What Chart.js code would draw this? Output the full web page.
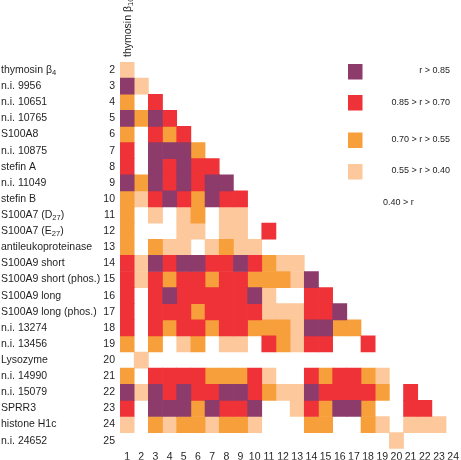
<!DOCTYPE html>
<html>
<head>
<meta charset="utf-8">
<script src="https://cdn.jsdelivr.net/npm/chart.js@4.4.1/dist/chart.umd.min.js"></script>
<style>
  html, body { margin: 0; padding: 0; background: #fff; }
  #wrap { width: 461px; height: 460px; }
</style>
</head>
<body>
<div id="wrap"><canvas id="corrChart"></canvas></div>
<script>
// --- data ---
const rowNumbers = ['2', '3', '4', '5', '6', '7', '8', '9', '10', '11', '12', '13',
  '14', '15', '16', '17', '18', '19', '20', '21', '22', '23', '24', '25'];
const colNumbers = [1, 2, 3, 4, 5, 6, 7, 8, 9, 10, 11, 12, 13, 14, 15, 16, 17, 18, 19, 20, 21, 22, 23, 24];

// {..} marks a subscript
const rowNames = ['thymosin β{4}', 'n.i. 9956', 'n.i. 10651', 'n.i. 10765', 'S100A8',
  'n.i. 10875', 'stefin A', 'n.i. 11049', 'stefin B', 'S100A7 (D{27})', 'S100A7 (E{27})',
  'antileukoproteinase', 'S100A9 short', 'S100A9 short (phos.)', 'S100A9 long',
  'S100A9 long (phos.)', 'n.i. 13274', 'n.i. 13456', 'Lysozyme', 'n.i. 14990',
  'n.i. 15079', 'SPRR3', 'histone H1c', 'n.i. 24652'];
const colName = 'thymosin β{10}';

// correlation class per cell: 4 = r > 0.85, 3, 2, 1, 0 = r < 0.40
const cellLevels = [
  [1],
  [4, 1],
  [2, 0, 3],
  [4, 2, 4, 3],
  [2, 0, 3, 2, 3],
  [3, 0, 4, 4, 4, 2],
  [3, 0, 4, 3, 4, 3, 3],
  [4, 2, 4, 3, 4, 3, 4, 4],
  [2, 1, 3, 4, 3, 2, 4, 3, 3],
  [2, 0, 1, 0, 1, 2, 0, 1, 1, 0],
  [2, 0, 0, 0, 1, 1, 0, 1, 1, 0, 3],
  [2, 0, 2, 1, 1, 0, 1, 2, 1, 1, 0, 0],
  [3, 1, 4, 3, 4, 4, 3, 3, 4, 3, 2, 1, 1],
  [3, 1, 3, 2, 3, 3, 2, 3, 3, 2, 2, 2, 1, 4],
  [3, 0, 3, 4, 3, 3, 3, 3, 3, 4, 1, 0, 0, 3, 3],
  [3, 0, 3, 3, 3, 2, 3, 3, 3, 3, 1, 1, 1, 3, 3, 4],
  [3, 0, 3, 2, 3, 3, 2, 3, 3, 2, 2, 2, 1, 4, 4, 2, 2],
  [2, 0, 2, 0, 1, 2, 0, 1, 1, 0, 3, 2, 1, 3, 3, 0, 0, 3],
  [0, 1, 0, 0, 0, 0, 0, 0, 0, 0, 0, 0, 0, 0, 0, 0, 0, 0, 0],
  [2, 0, 3, 3, 3, 3, 2, 2, 2, 3, 1, 0, 0, 3, 2, 3, 3, 2, 1, 0],
  [4, 1, 4, 3, 4, 3, 3, 4, 4, 3, 2, 1, 1, 4, 3, 3, 3, 3, 2, 0, 3],
  [3, 0, 4, 4, 4, 2, 4, 3, 3, 4, 0, 0, 1, 3, 2, 4, 4, 2, 0, 0, 3, 3],
  [1, 0, 2, 1, 2, 2, 1, 2, 2, 1, 0, 0, 0, 2, 2, 0, 0, 2, 1, 0, 1, 1, 1],
  [0, 0, 0, 0, 0, 0, 0, 0, 0, 0, 0, 0, 0, 0, 0, 0, 0, 0, 0, 1, 0, 0, 0, 0]
];

const levelValues = [4, 3, 2, 1];
const levelColors = ['#8c3b6b', '#ee3237', '#f79f3a', '#fcc89c'];
const levelLabels = ['r > 0.85', '0.85 > r > 0.70', '0.70 > r > 0.55', '0.55 > r > 0.40', '0.40 > r'];

const FONT = '"Liberation Sans", Arial, sans-serif';
const TEXT = '#1e1e1e';

// one dataset per correlation class, each cell a floating bar [c-0.5, c+0.5]
const datasets = levelValues.map((lv, k) => {
  const data = [];
  cellLevels.forEach((row, i) => {
    row.forEach((v, j) => {
      if (v === lv) data.push({ y: rowNumbers[i], x: [colNumbers[j] - 0.5, colNumbers[j] + 0.5] });
    });
  });
  return { label: levelLabels[k], data: data, backgroundColor: levelColors[k] };
});

// draw "name{sub}" text with a smaller lowered subscript
function drawSubText(ctx, text, x, y, size) {
  let cx = x;
  text.split(/(\{[^}]*\})/).forEach(p => {
    if (!p) return;
    const isSub = p[0] === '{';
    const t = isSub ? p.slice(1, -1) : p;
    ctx.font = (isSub ? size * 0.72 : size) + 'px ' + FONT;
    ctx.fillText(t, cx, isSub ? y + 3 : y);
    cx += ctx.measureText(t).width;
  });
}

const labelPlugin = {
  id: 'labels',
  afterDraw(chart) {
    const ctx = chart.ctx;
    const yScale = chart.scales.y;
    ctx.save();
    ctx.fillStyle = TEXT;
    ctx.textAlign = 'left';
    ctx.textBaseline = 'middle';

    // row names
    rowNames.forEach((name, i) => {
      drawSubText(ctx, name, 1, yScale.getPixelForTick(i), 10.5);
    });

    // column 1 name, vertical
    ctx.save();
    ctx.translate(chart.scales.x.getPixelForValue(colNumbers[0]) + 1, 57);
    ctx.rotate(-Math.PI / 2);
    drawSubText(ctx, colName, 0, 0, 10.5);
    ctx.restore();

    // legend
    const boxY = [64, 95, 132.5, 164];
    const textY = [71, 102.5, 139.5, 171, 203];
    levelColors.forEach((c, k) => {
      ctx.fillStyle = c;
      ctx.fillRect(348, boxY[k], 14.5, 15.5);
    });
    ctx.fillStyle = TEXT;
    ctx.font = '9px ' + FONT;
    ctx.textAlign = 'right';
    levelLabels.slice(0, 4).forEach((t, k) => ctx.fillText(t, 450, textY[k]));
    ctx.textAlign = 'left';
    ctx.fillText(levelLabels[4], 383, textY[4]);
    ctx.restore();
  }
};

new Chart(document.getElementById('corrChart'), {
  type: 'bar',
  data: { labels: rowNumbers, datasets: datasets },
  options: {
    indexAxis: 'y',
    responsive: true,
    maintainAspectRatio: false,
    animation: false,
    layout: { padding: { top: 62, right: 0.6, left: 0, bottom: 0 } },
    datasets: { bar: { grouped: false, barPercentage: 1, categoryPercentage: 1, borderWidth: 0 } },
    plugins: { legend: { display: false }, tooltip: { enabled: false } },
    scales: {
      x: {
        type: 'linear',
        min: 0.5,
        max: 24.5,
        grid: { display: false, drawTicks: false },
        border: { display: false },
        ticks: { autoSkip: false, maxRotation: 0, padding: 2, color: TEXT, font: { family: FONT, size: 10.5 } },
        afterBuildTicks: s => { s.ticks = colNumbers.map(v => ({ value: v })); },
        afterFit: s => { s.height = 11; }
      },
      y: {
        type: 'category',
        grid: { display: false, drawTicks: false },
        border: { display: false },
        ticks: { autoSkip: false, padding: 5, color: TEXT, font: { family: FONT, size: 10.5 } },
        afterFit: s => { s.width = 120; }
      }
    }
  },
  plugins: [labelPlugin]
});
</script>
</body>
</html>
